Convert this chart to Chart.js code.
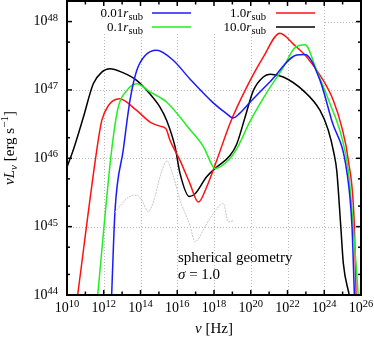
<!DOCTYPE html>
<html lang="en">
<head>
  <meta charset="UTF-8" />
  <title>SED – spherical geometry</title>
  <script src="https://cdn.jsdelivr.net/npm/chart.js"></script>
  <style>
    html, body { margin: 0; padding: 0; background: #fff; }
    canvas { display: block; }
  </style>
</head>
<body>
  <canvas id="sed" width="374" height="338"></canvas>

  <script>
    // values: log10(nu [Hz]) and log10(nu L_nu [erg/s])
    const nu001 = [12.43, 12.61, 13.06, 13.43, 13.79, 14.24, 14.88, 15.79, 16.69, 17.96, 18.65, 19.05, 19.41, 19.96, 21.05, 22.50, 22.95, 23.77, 24.41, 25.22, 25.51, 25.64];
    const L001  = [44.00, 45.22, 46.12, 46.85, 47.28, 47.50, 47.58, 47.43, 47.16, 46.81, 46.66, 46.59, 46.66, 46.82, 47.12, 47.51, 47.52, 47.14, 46.55, 45.82, 45.00, 44.00];

    const nu01 = [11.67, 12.43, 12.79, 13.25, 13.79, 14.52, 15.43, 16.69, 17.42, 17.96, 18.05, 18.78, 19.24, 19.96, 20.87, 21.77, 22.41, 22.95, 23.59, 24.31, 24.95, 25.31, 25.58, 25.85];
    const L01  = [44.00, 46.12, 46.75, 46.99, 47.09, 46.97, 46.82, 46.42, 46.17, 45.87, 45.85, 45.97, 46.14, 46.54, 46.96, 47.33, 47.62, 47.66, 47.28, 46.80, 46.31, 45.82, 45.00, 44.00];

    const nu1 = [10.58, 11.62, 11.89, 12.25, 12.85, 13.79, 14.52, 15.06, 15.39, 15.61, 16.15, 16.69, 17.15, 17.60, 18.15, 18.87, 19.78, 20.68, 21.59, 22.32, 23.05, 23.95, 24.49, 24.95, 25.31, 25.64, 25.73];
    const L1  = [44.00, 46.12, 46.55, 46.77, 46.87, 46.70, 46.53, 46.47, 46.43, 46.26, 45.97, 45.63, 45.36, 45.58, 45.97, 46.51, 47.04, 47.48, 47.83, 47.67, 47.48, 47.14, 46.85, 46.46, 45.97, 45.00, 44.00];

    const nu10 = [10.00, 10.34, 10.89, 11.43, 11.89, 12.34, 12.98, 13.79, 14.52, 15.06, 15.43, 15.88, 16.15, 16.66, 16.97, 17.60, 18.15, 18.87, 19.24, 19.69, 20.14, 20.68, 21.05, 21.77, 22.86, 23.77, 24.22, 24.53, 24.68, 24.90, 25.04, 25.36];
    const L10  = [45.87, 46.12, 46.60, 47.09, 47.26, 47.31, 47.26, 47.14, 46.94, 46.75, 46.55, 46.17, 45.78, 45.44, 45.48, 45.73, 45.87, 46.04, 46.21, 46.60, 46.99, 47.19, 47.23, 47.19, 46.99, 46.70, 46.41, 46.07, 45.82, 45.00, 44.46, 44.00];

    // faint grey reference curve
    const nuRef = [12.61, 13.25, 13.61, 13.79, 14.07, 14.42, 14.79, 15.06, 15.43, 15.79, 16.15, 16.69, 16.97, 17.51, 17.96, 18.51, 18.78, 19.05];
    const LRef  = [45.21, 45.41, 45.46, 45.46, 45.39, 45.22, 45.44, 45.73, 45.96, 45.73, 45.39, 45.02, 44.78, 45.00, 45.19, 45.34, 45.07, 45.09];

    // axes
    const xTickExp  = [10, 11, 12, 13, 14, 15, 16, 17, 18, 19, 20, 21, 22, 23, 24, 25, 26];
    const xLabelExp = [10, 12, 14, 16, 18, 20, 22, 24, 26];
    const xGridExp  = [12, 14, 16, 18, 20, 22, 24];
    const yLabelExp = [44, 45, 46, 47, 48];
    const yMinorMul = [2, 5];
    const yGridExp  = [45, 46, 47, 48];

    const SERIF = '"Liberation Serif", "Times New Roman", serif';
    const font = (size, style) => (style ? style + ' ' : '') + size + 'px ' + SERIF;

    const pts = (nu, L) => nu.map((v, i) => ({ x: Math.pow(10, v), y: Math.pow(10, L[i]) }));

    function drawRich(ctx, parts, x, y, align) {
      let w = 0;
      parts.forEach(p => { ctx.font = p.font; w += ctx.measureText(p.t).width; });
      let cx = align === 'right' ? x - w : align === 'center' ? x - w / 2 : x;
      parts.forEach(p => {
        ctx.font = p.font;
        ctx.fillText(p.t, cx, y + (p.dy || 0));
        cx += ctx.measureText(p.t).width;
      });
    }

    function seg(ctx, x1, y1, x2, y2) {
      ctx.beginPath(); ctx.moveTo(x1, y1); ctx.lineTo(x2, y2); ctx.stroke();
    }

    const legendRows = [
      { num: '0.01', color: '#1a1aff', col: 0, row: 0 },
      { num: '0.1',  color: '#22ee22', col: 0, row: 1 },
      { num: '1.0',  color: '#ff1111', col: 1, row: 0 },
      { num: '10.0', color: '#000000', col: 1, row: 1 }
    ];

    const framePlugin = {
      id: 'frame',
      beforeDatasetsDraw(chart) {
        const { ctx, chartArea: a, scales: { x, y } } = chart;
        ctx.save();
        // dotted grid
        ctx.strokeStyle = '#b8b8b8';
        ctx.lineWidth = 1;
        ctx.setLineDash([1, 2]);
        xGridExp.forEach(e => {
          const px = Math.round(x.getPixelForValue(Math.pow(10, e))) + 0.5;
          seg(ctx, px, a.top, px, a.bottom);
        });
        yGridExp.forEach(e => {
          const py = Math.round(y.getPixelForValue(Math.pow(10, e))) + 0.5;
          seg(ctx, a.left, py, a.right, py);
        });
        // opaque key box
        ctx.fillStyle = '#fff';
        ctx.fillRect(a.left + 2, a.top + 1, 255, 30);
        ctx.restore();
      },
      afterDraw(chart) {
        const { ctx, chartArea: a, scales: { x, y } } = chart;
        ctx.save();
        ctx.setLineDash([]);
        ctx.strokeStyle = '#000';
        ctx.fillStyle = '#000';

        // ticks on all four sides
        ctx.lineWidth = 1.5;
        xTickExp.forEach(e => {
          const px = x.getPixelForValue(Math.pow(10, e));
          const len = xLabelExp.includes(e) ? 5 : 3.5;
          seg(ctx, px, a.bottom, px, a.bottom - len);
          seg(ctx, px, a.top, px, a.top + len);
        });
        yLabelExp.forEach(e => {
          [1].concat(yMinorMul).forEach(m => {
            const v = m * Math.pow(10, e);
            if (v > y.max) return;
            const py = y.getPixelForValue(v);
            const len = m === 1 ? 5 : 3;
            seg(ctx, a.left, py, a.left + len, py);
            seg(ctx, a.right, py, a.right - len, py);
          });
        });

        // frame
        ctx.lineWidth = 2;
        ctx.strokeRect(a.left, a.top, a.right - a.left, a.bottom - a.top);

        // tick labels
        xLabelExp.forEach(e => {
          const px = x.getPixelForValue(Math.pow(10, e));
          drawRich(ctx, [
            { t: '10', font: font(14) },
            { t: String(e), font: font(10.5), dy: -5 }
          ], px, a.bottom + 17, 'center');
        });
        yLabelExp.forEach(e => {
          const py = y.getPixelForValue(Math.pow(10, e));
          drawRich(ctx, [
            { t: '10', font: font(14) },
            { t: String(e), font: font(10.5), dy: -4.5 }
          ], a.left - 9, py + 3.5, 'right');
        });

        // axis titles
        drawRich(ctx, [
          { t: 'ν', font: font(15, 'italic') },
          { t: ' [Hz]', font: font(15) }
        ], (a.left + a.right) / 2, 333, 'center');

        ctx.save();
        ctx.translate(14, (a.top + a.bottom) / 2);
        ctx.rotate(-Math.PI / 2);
        drawRich(ctx, [
          { t: 'ν', font: font(15, 'italic') },
          { t: 'L', font: font(15, 'italic') },
          { t: 'ν', font: font(11, 'italic'), dy: 3 },
          { t: ' [erg s', font: font(15) },
          { t: '−1', font: font(11), dy: -6 },
          { t: ']', font: font(15) }
        ], 0, 0, 'center');
        ctx.restore();

        // key
        legendRows.forEach(r => {
          const textRight = r.col === 0 ? 143 : 266;
          const lineX = r.col === 0 ? 152 : 276;
          const ly = a.top + 12 + r.row * 14;
          drawRich(ctx, [
            { t: r.num, font: font(13) },
            { t: 'r', font: font(13, 'italic') },
            { t: 'sub', font: font(10.5), dy: 3.5 }
          ], textRight, ly + 3.5, 'right');
          ctx.strokeStyle = r.color;
          ctx.lineWidth = 1.5;
          seg(ctx, lineX, ly, lineX + 39, ly);
        });

        // annotation
        ctx.fillStyle = '#000';
        drawRich(ctx, [{ t: 'spherical geometry', font: font(15) }], 178, 262, 'left');
        drawRich(ctx, [
          { t: 'σ', font: font(15, 'italic') },
          { t: ' = 1.0', font: font(15) }
        ], 178, 279, 'left');

        ctx.restore();
      }
    };

    const line = (data, color, extra) => Object.assign({
      data, borderColor: color, borderWidth: 1.5, pointRadius: 0,
      showLine: true, cubicInterpolationMode: 'monotone', fill: false
    }, extra || {});

    new Chart(document.getElementById('sed'), {
      type: 'scatter',
      data: {
        datasets: [
          line(pts(nuRef, LRef), '#c4c4c4', { borderWidth: 1, borderDash: [2, 1] }),
          line(pts(nu001, L001), '#1a1aff'),
          line(pts(nu01, L01), '#22ee22'),
          line(pts(nu1, L1), '#ff1111'),
          line(pts(nu10, L10), '#000000')
        ]
      },
      options: {
        responsive: false,
        animation: false,
        events: [],
        layout: { padding: { left: 67, right: 13, top: 1, bottom: 43 } },
        plugins: { legend: { display: false }, tooltip: { enabled: false } },
        scales: {
          x: { type: 'logarithmic', min: 1e10, max: 1e26, display: false },
          y: { type: 'logarithmic', min: 1e44, max: 2e48, display: false }
        }
      },
      plugins: [framePlugin]
    });
  </script>
</body>
</html>
